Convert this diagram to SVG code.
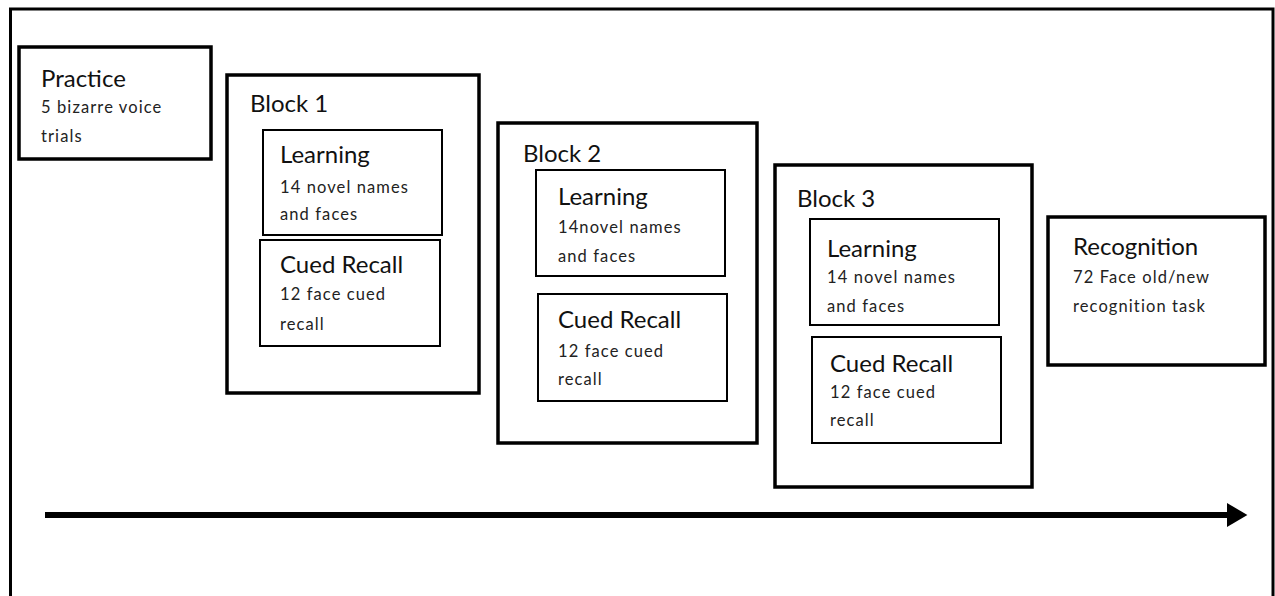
<svg xmlns="http://www.w3.org/2000/svg" width="1275" height="596" viewBox="0 0 1275 596">
<style>
.outer{fill:none;stroke:#000;stroke-width:3}
.blk{fill:#fff;stroke:#000;stroke-width:3.5}
.inner{fill:#fff;stroke:#000;stroke-width:2}
.t{font-family:Lato,"Liberation Sans",sans-serif;font-size:24px;fill:#111}
.s{font-family:Lato,"Liberation Sans",sans-serif;font-size:16.5px;letter-spacing:1.1px;fill:#222}
</style>
<defs>
<marker id="ah" markerWidth="4" markerHeight="4" refX="0" refY="2" orient="auto" markerUnits="strokeWidth"><path d="M0,0 L3.4,2 L0,4 Z" fill="#000"/></marker>
</defs>
<rect width="1275" height="596" fill="#fff"/>
<rect class="outer" x="10.5" y="9" width="1262.5" height="600"/>
<g id="practice">
<rect class="blk" x="19" y="47" width="192" height="112"/>
<text class="t" x="41" y="87">Practice</text>
<text class="s" x="41" y="113">5 bizarre voice</text>
<text class="s" x="41" y="142">trials</text>
</g>
<g id="block1">
<rect class="blk" x="227" y="75" width="252" height="318"/>
<text class="t" x="250" y="112">Block 1</text>
<g id="b1-learning">
<rect class="inner" x="263" y="130" width="179" height="105"/>
<text class="t" x="280" y="163">Learning</text>
<text class="s" x="280" y="193">14 novel names</text>
<text class="s" x="280" y="220">and faces</text>
</g>
<g id="b1-recall">
<rect class="inner" x="260" y="240" width="180" height="106"/>
<text class="t" x="280" y="273">Cued Recall</text>
<text class="s" x="280" y="300">12 face cued</text>
<text class="s" x="280" y="330">recall</text>
</g>
</g>
<g id="block2">
<rect class="blk" x="498" y="123" width="259" height="320"/>
<text class="t" x="523" y="162">Block 2</text>
<g id="b2-learning">
<rect class="inner" x="536" y="170" width="189" height="106"/>
<text class="t" x="558" y="205">Learning</text>
<text class="s" x="558" y="233">14novel names</text>
<text class="s" x="558" y="262">and faces</text>
</g>
<g id="b2-recall">
<rect class="inner" x="538" y="294" width="189" height="107"/>
<text class="t" x="558" y="328">Cued Recall</text>
<text class="s" x="558" y="357">12 face cued</text>
<text class="s" x="558" y="385">recall</text>
</g>
</g>
<g id="block3">
<rect class="blk" x="775" y="165" width="257" height="322"/>
<text class="t" x="797" y="207">Block 3</text>
<g id="b3-learning">
<rect class="inner" x="810" y="219" width="189" height="106"/>
<text class="t" x="827" y="257">Learning</text>
<text class="s" x="827" y="283">14 novel names</text>
<text class="s" x="827" y="312">and faces</text>
</g>
<g id="b3-recall">
<rect class="inner" x="812" y="337" width="189" height="106"/>
<text class="t" x="830" y="372">Cued Recall</text>
<text class="s" x="830" y="398">12 face cued</text>
<text class="s" x="830" y="426">recall</text>
</g>
</g>
<g id="recognition">
<rect class="blk" x="1048" y="217" width="217" height="148"/>
<text class="t" x="1073" y="255">Recognition</text>
<text class="s" x="1073" y="283">72 Face old/new</text>
<text class="s" x="1073" y="312">recognition task</text>
</g>
<g id="connectors">
<line x1="45" y1="515" x2="1227" y2="515" stroke="#000" stroke-width="6" marker-end="url(#ah)"/>
</g>
</svg>
